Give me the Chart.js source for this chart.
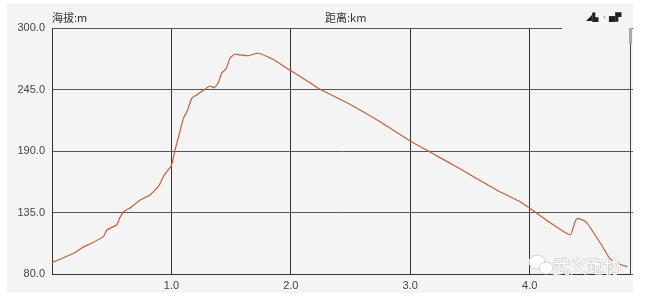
<!DOCTYPE html>
<html>
<head>
<meta charset="utf-8">
<script src="https://cdn.jsdelivr.net/npm/chart.js@4.4.0/dist/chart.umd.min.js"></script>
<style>
    html, body { margin: 0; padding: 0; background: #ffffff; }
    #wrap { width: 645px; height: 300px; position: relative; }
</style>
</head>
<body>
<div id="wrap"><canvas id="profile"></canvas></div>
<script>
// 距离 (km) 与海拔 (m)
const distanceKm = [0.00, 0.18, 0.26, 0.33, 0.43, 0.46, 0.54, 0.57, 0.60, 0.65, 0.74, 0.82, 0.89, 0.94, 1.00,
    1.03, 1.06, 1.10, 1.13, 1.17, 1.21, 1.25, 1.32, 1.36, 1.39, 1.42, 1.46, 1.49, 1.53, 1.57, 1.64, 1.73,
    1.85, 1.99, 2.16, 2.24, 2.49, 2.75, 3.00, 3.36, 3.53, 3.75, 3.92, 4.00, 4.06, 4.20, 4.34, 4.38, 4.40,
    4.47, 4.53, 4.61, 4.67, 4.73, 4.82];
const elevationM = [90.1, 98.5, 103.9, 107.5, 113.4, 119.4, 123.8, 130.7, 135.7, 138.8, 146.2, 150.7, 158.1, 168.5, 177.0,
    190.9, 202.8, 219.2, 225.1, 237.1, 240.1, 243.0, 248.1, 246.6, 250.5, 259.5, 264.0, 272.9, 276.7, 275.9, 275.2, 277.4,
    272.0, 262.4, 251.1, 245.4, 232.0, 215.9, 198.9, 177.5, 167.0, 153.6, 144.7, 138.8, 134.3, 123.8, 114.9, 126.8, 129.8,
    126.8, 117.8, 104.4, 94.0, 89.6, 86.5];
const xTicks = [0, 1, 2, 3, 4];
const yTicks = [80, 135, 190, 245, 300];

const xMax = 4.84;

// 背景面板、标题、水印等装饰
const decorPlugin = {
    id: 'decor',
    beforeDraw(chart) {
        const c = chart.ctx;
        c.save();
        c.fillStyle = '#ffffff';
        c.fillRect(0, 0, chart.width, chart.height);
        c.fillStyle = '#f4f4f4';
        c.fillRect(7, 3, 626, 290);
        c.restore();
    },
    afterDraw(chart) {
        const c = chart.ctx;
        const area = chart.chartArea;
        c.save();
        // 顶部边线（只画到 562）
        c.strokeStyle = '#555';
        c.lineWidth = 1;
        c.beginPath();
        c.moveTo(area.left, area.top + 0.5);
        c.lineTo(562, area.top + 0.5);
        c.stroke();

        // 轴标题
        c.fillStyle = '#333';
        c.font = '11px "Noto Sans CJK SC", sans-serif';
        c.textBaseline = 'middle';
        c.fillText('海拔:m', area.left, 18);
        c.fillText('距离:km', 325, 18);

        // 右上角小图标
        c.font = 'bold 8px "DejaVu Sans", sans-serif';
        c.fillStyle = '#222';
        c.fillText('◢▙', 586, 18);
        c.fillStyle = '#999';
        c.fillText('·', 603, 18);
        c.fillStyle = '#222';
        c.fillText('▅▛', 609, 18);
        c.fillStyle = '#aaa';
        c.fillRect(629, 28, 3, 16);

        // 水印
        c.fillStyle = 'rgba(255,255,255,0.95)';
        c.strokeStyle = '#d2d2d2';
        c.lineWidth = 1;
        c.beginPath();
        c.ellipse(537, 262, 8, 7, 0, 0, Math.PI * 2);
        c.fill(); c.stroke();
        c.beginPath();
        c.ellipse(546, 268, 7, 6, 0, 0, Math.PI * 2);
        c.fill(); c.stroke();
        c.font = '17px "Noto Sans CJK SC", sans-serif';
        c.lineWidth = 1.5;
        c.strokeText('武义跑协', 553, 267);
        c.fillText('武义跑协', 553, 267);
        c.restore();
    }
};

new Chart(document.getElementById('profile'), {
    type: 'line',
    data: {
        datasets: [{
            data: distanceKm.map((d, i) => ({ x: d, y: elevationM[i] })),
            borderColor: '#c0603a',
            borderWidth: 1.2,
            pointRadius: 0,
            tension: 0.15,
            fill: false
        }]
    },
    plugins: [decorPlugin],
    options: {
        responsive: true,
        maintainAspectRatio: false,
        animation: false,
        events: [],
        layout: { padding: { top: 28, right: 0, left: 0, bottom: 0 } },
        plugins: {
            legend: { display: false },
            tooltip: { enabled: false }
        },
        scales: {
            x: {
                type: 'linear',
                min: 0,
                max: xMax,
                afterBuildTicks: axis => { axis.ticks = xTicks.map(v => ({ value: v })); },
                afterFit: axis => { axis.height = 26; },
                grid: { color: '#333', lineWidth: 1, drawTicks: false },
                border: { color: '#333', width: 1 },
                ticks: {
                    padding: 5,
                    color: '#444',
                    font: { family: '"Liberation Sans", Arial, sans-serif', size: 11 },
                    callback: v => v === 0 ? '' : v.toFixed(1)
                }
            },
            y: {
                min: 80,
                max: 300,
                afterBuildTicks: axis => { axis.ticks = yTicks.map(v => ({ value: v })); },
                afterFit: axis => { axis.width = 52; },
                grid: {
                    color: ctx => ctx.tick && ctx.tick.value === 300 ? 'rgba(0,0,0,0)' : '#555',
                    lineWidth: 1,
                    drawTicks: false
                },
                border: { color: '#333', width: 1 },
                ticks: {
                    padding: 7,
                    color: '#444',
                    font: { family: '"Liberation Sans", Arial, sans-serif', size: 11 },
                    callback: v => v.toFixed(1)
                }
            },
            y2: {
                position: 'right',
                min: 80,
                max: 300,
                afterBuildTicks: axis => { axis.ticks = yTicks.map(v => ({ value: v })); },
                afterFit: axis => { axis.width = 15; },
                grid: { drawOnChartArea: false, drawTicks: true, tickLength: 3, color: '#666' },
                border: { color: '#444', width: 1 },
                ticks: { display: false }
            }
        }
    }
});
</script>
</body>
</html>
